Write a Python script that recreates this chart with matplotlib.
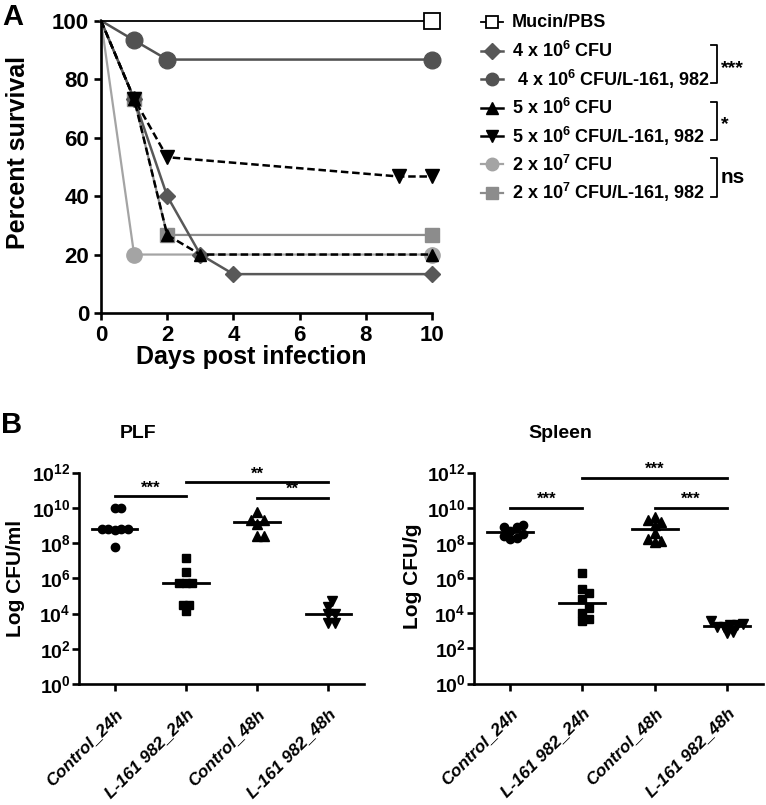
import numpy as np
import matplotlib
matplotlib.use("Agg")
import matplotlib.pyplot as plt

plt.rcParams['font.family'] = ['Liberation Sans', 'DejaVu Sans']
plt.rcParams['font.weight'] = 'bold'
plt.rcParams['axes.labelweight'] = 'bold'
plt.rcParams['mathtext.fontset'] = 'custom'
plt.rcParams['mathtext.rm'] = 'Liberation Sans:bold'
plt.rcParams['mathtext.it'] = 'Liberation Sans:bold:italic'
plt.rcParams['mathtext.bf'] = 'Liberation Sans:bold'
plt.rcParams['mathtext.default'] = 'rm'

# ---- Panel A: survival curves (days, percent survival) ----
days_mucin = [0, 10]
surv_mucin = [100, 100]
days_4e6 = [0, 1, 2, 3, 4, 10]
surv_4e6 = [100, 73.3, 40, 20, 13.3, 13.3]
days_4e6_L = [0, 1, 2, 10]
surv_4e6_L = [100, 93.3, 86.7, 86.7]
days_5e6 = [0, 1, 2, 3, 10]
surv_5e6 = [100, 73.3, 26.7, 20, 20]
days_5e6_L = [0, 1, 2, 9, 10]
surv_5e6_L = [100, 73.3, 53.3, 46.7, 46.7]
days_2e7 = [0, 1, 10]
surv_2e7 = [100, 20, 20]
days_2e7_L = [0, 1, 2, 10]
surv_2e7_L = [100, 73.3, 26.7, 26.7]

labels_A = ["Mucin/PBS", "4 x $10^6$ CFU", " 4 x $10^6$ CFU/L-161, 982",
            "5 x $10^6$ CFU", "5 x $10^6$ CFU/L-161, 982",
            "2 x $10^7$ CFU", "2 x $10^7$ CFU/L-161, 982"]
sig_A = ["***", "*", "ns"]

# ---- Panel B: log10 CFU per animal ----
groups_B = ["Control_24h", "L-161 982_24h", "Control_48h", "L-161 982_48h"]
plf_ctrl24 = [9.98, 10.0, 8.82, 8.78, 8.8, 8.76, 8.8, 7.8]
plf_l24 = [7.14, 6.38, 5.72, 5.72, 5.72, 4.49, 4.49, 4.16]
plf_ctrl48 = [9.3, 9.05, 9.3, 9.75, 8.37, 8.4]
plf_l48 = [4.72, 3.95, 4.39, 4.0, 3.45, 3.48]
spl_ctrl24 = [8.88, 9.03, 8.88, 8.69, 8.41, 8.5, 8.22, 8.28]
spl_l24 = [6.27, 5.38, 5.13, 4.81, 4.3, 4.0, 3.54, 3.64]
spl_ctrl48 = [9.16, 9.45, 9.3, 9.03, 8.54, 8.22, 8.03, 8.09]
spl_l48 = [3.39, 3.2, 3.3, 3.54, 3.3, 3.24, 2.86, 2.92]
yexp_B = [0, 2, 4, 6, 8, 10, 12]

plf_sig = [(0, 1, "***"), (1, 3, "**"), (2, 3, "**")]
spl_sig = [(0, 1, "***"), (1, 3, "***"), (2, 3, "***")]


def swarm(vals, ppu_x, ppu_y, d=6.5):
    # simple beeswarm: horizontal offsets (data units) so markers don't pile up
    vals = np.asarray(vals)
    order = np.argsort(vals)
    cands = [0.0]
    for k in range(1, 10):
        cands += [k * d * 0.5, -k * d * 0.5]
    placed = []
    offs = np.zeros(len(vals))
    for i in order:
        y = vals[i] * ppu_y
        for c in cands:
            if all(np.hypot(c - px, y - py) >= d for px, py in placed):
                break
        placed.append((c, y))
        offs[i] = c / ppu_x
    return offs


fig = plt.figure(figsize=(7.66, 8.05), dpi=100)
W, H = 766.0, 805.0


def style_axes(ax):
    for s in ['top', 'right']:
        ax.spines[s].set_visible(False)
    for s in ['left', 'bottom']:
        ax.spines[s].set_linewidth(1.9)
    ax.tick_params(width=1.9, length=5, direction='out')


# Panel A
axA = fig.add_axes([101 / W, 1 - 313 / H, 331 / W, 292.3 / H])
style_axes(axA)
seriesA = [
    (days_mucin, surv_mucin, dict(color='black', lw=1.3, marker='s', ms=11, mfc='white', mec='black', mew=1.3), 6),
    (days_4e6, surv_4e6, dict(color='#585858', lw=1.8, marker='D', ms=8), 3),
    (days_4e6_L, surv_4e6_L, dict(color='#525252', lw=1.8, marker='o', ms=12), 3),
    (days_5e6, surv_5e6, dict(color='black', lw=1.8, ls=(0, (3, 1.5)), marker='^', ms=9), 5),
    (days_5e6_L, surv_5e6_L, dict(color='black', lw=1.8, ls=(0, (3, 1.5)), marker='v', ms=10), 5),
    (days_2e7, surv_2e7, dict(color='#a4a4a4', lw=1.6, marker='o', ms=11), 2),
    (days_2e7_L, surv_2e7_L, dict(color='#8c8c8c', lw=1.6, marker='s', ms=10), 2),
]
for x, y, kw, z in seriesA:
    axA.plot(x, y, markevery=slice(1, None), clip_on=False, zorder=z, **kw)
axA.set_xlim(0, 10)
axA.set_ylim(0, 100)
axA.set_xticks([0, 2, 4, 6, 8, 10])
axA.set_yticks([0, 20, 40, 60, 80, 100])
axA.tick_params(labelsize=16)
axA.set_xlabel("Days post infection", fontsize=18)
axA.set_ylabel("Percent survival", fontsize=18)
axA.xaxis.set_label_coords(0.453, -0.11)
axA.yaxis.set_label_coords(-0.215, 0.55)

# legend for panel A drawn in a pixel-space overlay
lax = fig.add_axes([0, 0, 1, 1], zorder=-1)
lax.set_xlim(0, W)
lax.set_ylim(H, 0)
lax.axis('off')
row_y = 22.5 + 28.4 * np.arange(len(labels_A))
for (x, y, kw, z), lab, ry in zip(seriesA, labels_A, row_y):
    k = dict(kw)
    k['ls'] = '-'
    k['ms'] = min(k['ms'], 9)
    lax.plot([481, 503], [ry, ry], **{**k, 'marker': None})
    lax.plot([492], [ry], **{kk: vv for kk, vv in k.items() if kk not in ('ls', 'lw')})
    lax.text(512, ry, lab, fontsize=13, va='center', ha='left')
for i, s in enumerate(sig_A):
    y0, y1 = row_y[2 * i + 1] - 6, row_y[2 * i + 2] + 4
    lax.plot([711, 717, 717, 711], [y0, y0, y1, y1], color='black', lw=1.3)
    lax.text(721, (y0 + y1) / 2 + (4 if s != 'ns' else 0), s, fontsize=14 if s != 'ns' else 15,
             va='center', ha='left')


def panel_B(rect, data, sig, hts, ylab, title, title_x, ylab_x, ylab_y):
    ax = fig.add_axes(rect)
    style_axes(ax)
    ppu_x = rect[2] * W / 4.0
    ppu_y = rect[3] * H / 12.0
    mk = ['o', 's', '^', 'v']
    ms = [6, 6, 7, 7]
    for i, vals in enumerate(data):
        offs = swarm(vals, ppu_x, ppu_y)
        ax.plot(i + offs, 10.0 ** np.asarray(vals), ls='none', marker=mk[i], ms=ms[i],
                color='black', zorder=3)
        ax.plot([i - 0.32, i + 0.32], [10 ** np.median(vals)] * 2, color='black', lw=2, zorder=2)
    for (a, b, s), h in zip(sig, hts):
        ax.plot([a, b], [10 ** h, 10 ** h], color='black', lw=2, clip_on=False)
        ax.text((a + b) / 2, 10 ** (h + 0.05), s, ha='center', va='bottom', fontsize=12)
    ax.set_yscale('log')
    ax.set_ylim(1, 1e12)
    ax.set_xlim(-0.5, 3.5)
    ax.set_yticks([10.0 ** e for e in yexp_B])
    ax.set_yticklabels(["$10^{%d}$" % e for e in yexp_B], fontsize=14)
    ax.minorticks_off()
    ax.set_xticks(range(len(groups_B)))
    ax.set_xticklabels(groups_B, rotation=45, ha='right', va='top', rotation_mode='anchor',
                       fontsize=12.5, style='italic')
    ax.tick_params(axis='y', pad=1)
    ax.tick_params(axis='x', pad=11)
    ax.set_ylabel(ylab, fontsize=15)
    ax.yaxis.set_label_coords(ylab_x, ylab_y)
    fig.text(title_x / W, 1 - 433 / H, title, ha='center', va='center', fontsize=14)
    return ax


panel_B([79 / W, 1 - 684 / H, 285 / W, 211.5 / H],
        [plf_ctrl24, plf_l24, plf_ctrl48, plf_l48], plf_sig, [10.65, 11.45, 10.55],
        "Log CFU/ml", "PLF", 138, -0.19, 0.50)
panel_B([474 / W, 1 - 683.5 / H, 289 / W, 211 / H],
        [spl_ctrl24, spl_l24, spl_ctrl48, spl_l48], spl_sig, [10.0, 11.7, 10.0],
        "Log CFU/g", "Spleen", 560, -0.18, 0.51)

fig.text(2 / W, 1 - 17 / H, "A", fontsize=21, va='center', ha='left')
fig.text(1 / W, 1 - 425 / H, "B", fontsize=21, va='center', ha='left')

fig.savefig("out.png", dpi=100)
